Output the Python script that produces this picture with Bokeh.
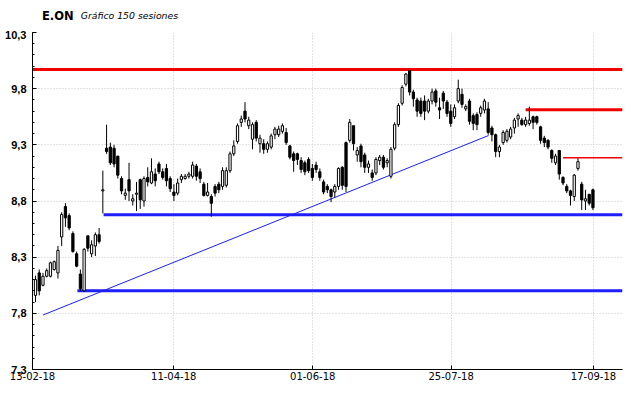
from bokeh.plotting import figure
from bokeh.layouts import column
from bokeh.models import Range1d, FixedTicker, Label, ColumnDataSource
from bokeh.embed import file_html
from bokeh.resources import INLINE

# ---- data ----
opens = [7.96, 8.16, 8.05, 8.13, 8.13, 8.19, 8.16, 8.48, 8.75, 8.67,
         8.51, 8.33, 8.15, 8.00, 8.49, 8.33, 8.40, 8.50, 8.89, 9.27,
         9.28, 9.27, 9.20, 9.00, 8.85, 8.99, 8.80, 8.86, 8.99, 8.80,
         9.01, 8.96, 9.04, 9.13, 9.06, 9.09, 9.00, 8.88, 8.87, 8.99,
         9.00, 9.02, 9.02, 9.11, 9.06, 8.95, 8.85, 8.84, 8.93, 8.95,
         8.93, 8.94, 9.07, 9.22, 9.33, 9.50, 9.60, 9.47, 9.35, 9.50,
         9.31, 9.31, 9.26, 9.28, 9.39, 9.39, 9.42, 9.41, 9.29, 9.22,
         9.22, 9.16, 9.14, 9.17, 9.09, 9.12, 9.06, 8.97, 8.93, 8.90,
         8.88, 8.93, 9.10, 9.32, 9.34, 9.47, 9.21, 9.29, 9.21, 9.10,
         9.05, 9.05, 9.16, 9.19, 9.14, 9.02, 9.27, 9.48, 9.67, 9.84,
         9.96, 9.77, 9.70, 9.69, 9.69, 9.60, 9.69, 9.78, 9.63, 9.76,
         9.68, 9.60, 9.55, 9.69, 9.75, 9.62, 9.69, 9.56, 9.57, 9.58,
         9.61, 9.62, 9.45, 9.39, 9.24, 9.32, 9.34, 9.37, 9.45, 9.53,
         9.52, 9.48, 9.49, 9.55, 9.55, 9.46, 9.36, 9.34, 9.25, 9.14,
         9.25, 9.01, 8.93, 8.89, 8.84, 9.09, 8.95, 8.80, 8.86, 8.90]
highs = [8.135, 8.19, 8.16, 8.20, 8.26, 8.27, 8.40, 8.70, 8.78, 8.69,
         8.53, 8.35, 8.19, 8.38, 8.49, 8.45, 8.52, 8.56, 9.07, 9.48,
         9.32, 9.30, 9.20, 9.02, 8.91, 9.14, 8.86, 8.97, 9.00, 9.02,
         9.10, 9.18, 9.09, 9.15, 9.09, 9.13, 9.02, 8.95, 9.00, 9.04,
         9.04, 9.06, 9.15, 9.13, 9.09, 8.97, 8.96, 8.86, 8.95, 8.97,
         9.10, 9.10, 9.24, 9.34, 9.49, 9.56, 9.68, 9.55, 9.50, 9.52,
         9.39, 9.35, 9.33, 9.40, 9.46, 9.47, 9.49, 9.45, 9.30, 9.24,
         9.23, 9.19, 9.16, 9.19, 9.13, 9.15, 9.09, 8.99, 8.95, 8.91,
         8.95, 9.10, 9.11, 9.33, 9.53, 9.47, 9.28, 9.31, 9.23, 9.16,
         9.08, 9.19, 9.21, 9.21, 9.18, 9.28, 9.50, 9.67, 9.83, 9.94,
         9.97, 9.79, 9.72, 9.72, 9.74, 9.71, 9.80, 9.80, 9.72, 9.78,
         9.70, 9.66, 9.66, 9.88, 9.80, 9.66, 9.71, 9.58, 9.59, 9.65,
         9.71, 9.68, 9.47, 9.40, 9.30, 9.43, 9.44, 9.46, 9.54, 9.58,
         9.54, 9.55, 9.64, 9.56, 9.56, 9.47, 9.38, 9.35, 9.26, 9.22,
         9.25, 9.02, 8.95, 8.90, 9.04, 9.18, 8.97, 8.90, 8.86, 8.91]
lows = [7.90, 7.96, 8.04, 8.12, 8.12, 8.18, 8.11, 8.40, 8.57, 8.54,
        8.34, 8.21, 8.00, 7.99, 8.35, 8.30, 8.31, 8.42, 8.69, 9.22,
        9.12, 9.10, 9.00, 8.86, 8.81, 8.80, 8.76, 8.71, 8.73, 8.75,
        8.93, 8.95, 8.93, 9.04, 8.99, 8.93, 8.88, 8.80, 8.85, 8.96,
        8.99, 9.00, 9.00, 8.98, 8.96, 8.84, 8.84, 8.66, 8.84, 8.87,
        8.90, 8.92, 9.05, 9.20, 9.31, 9.46, 9.50, 9.44, 9.26, 9.33,
        9.23, 9.22, 9.23, 9.26, 9.35, 9.37, 9.40, 9.30, 9.17, 9.06,
        9.12, 9.05, 9.03, 9.05, 8.98, 9.05, 8.98, 8.86, 8.87, 8.79,
        8.83, 8.90, 8.90, 8.88, 9.32, 9.25, 9.15, 9.10, 9.05, 9.05,
        8.98, 9.03, 9.12, 9.08, 9.10, 9.00, 9.25, 9.46, 9.65, 9.82,
        9.74, 9.64, 9.55, 9.55, 9.52, 9.58, 9.66, 9.64, 9.53, 9.62,
        9.55, 9.46, 9.53, 9.67, 9.63, 9.60, 9.48, 9.43, 9.43, 9.55,
        9.58, 9.39, 9.33, 9.19, 9.19, 9.30, 9.32, 9.35, 9.40, 9.46,
        9.47, 9.46, 9.47, 9.44, 9.48, 9.31, 9.28, 9.26, 9.14, 9.12,
        8.99, 8.94, 8.87, 8.76, 8.80, 9.07, 8.72, 8.72, 8.76, 8.72]
closes = [8.10, 8.00, 8.13, 8.18, 8.25, 8.26, 8.36, 8.68, 8.65, 8.56,
          8.35, 8.22, 8.02, 8.37, 8.38, 8.41, 8.50, 8.44, 8.90, 9.24,
          9.14, 9.13, 9.03, 8.89, 8.87, 8.89, 8.82, 8.87, 8.81, 9.00,
          8.97, 9.06, 8.98, 9.06, 9.01, 8.98, 8.91, 8.85, 8.96, 9.02,
          9.02, 9.04, 9.12, 9.02, 9.00, 8.85, 8.88, 8.78, 8.87, 8.90,
          9.07, 9.07, 9.22, 9.29, 9.47, 9.53, 9.53, 9.52, 9.48, 9.36,
          9.36, 9.26, 9.31, 9.38, 9.44, 9.44, 9.47, 9.32, 9.19, 9.16,
          9.17, 9.08, 9.06, 9.07, 9.01, 9.08, 9.01, 8.88, 8.90, 8.84,
          8.93, 9.09, 8.94, 8.93, 9.50, 9.31, 9.25, 9.15, 9.10, 9.13,
          9.01, 9.17, 9.19, 9.10, 9.16, 9.26, 9.48, 9.65, 9.81, 9.93,
          9.77, 9.71, 9.60, 9.58, 9.60, 9.69, 9.77, 9.68, 9.61, 9.69,
          9.58, 9.49, 9.63, 9.80, 9.66, 9.64, 9.51, 9.49, 9.48, 9.63,
          9.69, 9.41, 9.39, 9.24, 9.28, 9.41, 9.42, 9.44, 9.52, 9.56,
          9.48, 9.52, 9.52, 9.50, 9.50, 9.34, 9.32, 9.28, 9.18, 9.20,
          9.04, 8.96, 8.89, 8.85, 9.03, 9.15, 8.81, 8.82, 8.78, 8.74]

# horizontal support / resistance levels: price, first session
level_prices = [9.97, 9.613, 9.185, 8.677, 8.0]
level_starts = [-0.8, 131.0, 141.0, 18.2, 11.2]
level_colors = ["#f20000", "#f20000", "#f20000", "#1e1eff", "#1e1eff"]
level_widths = [3, 3, 1.5, 3, 3]

# trend line (session, price)
trend_x = [2.0, 121.1]
trend_y = [7.785, 9.383]

y_ticks = [7.3, 7.8, 8.3, 8.8, 9.3, 9.8, 10.3]
y_tick_labels = ["7,3", "7,8", "8,3", "8,8", "9,3", "9,8", "10,3"]
x_tick_pos = [-0.8, 36.95, 74.1, 111.1, 149.15]
x_tick_labels = ["13-02-18", "11-04-18", "01-06-18", "25-07-18", "17-09-18"]

title_main = "E.ON"
title_sub = "Gráfico 150 sesiones"

X_MIN, X_MAX = -0.8, 156.9
Y_MIN, Y_MAX = 7.3, 10.3

W = 624
TITLE_H = 30
H = 382 - TITLE_H

# ---- title strip ----
tf = figure(width=W, height=TITLE_H, output_backend="svg", toolbar_location=None,
            x_range=Range1d(0, W), y_range=Range1d(TITLE_H, 0),
            x_axis_type=None, y_axis_type=None,
            min_border_left=0, min_border_right=0, min_border_top=0,
            min_border_bottom=0)
tf.outline_line_color = None
tf.background_fill_color = "white"
tf.border_fill_color = "white"
tf.add_layout(Label(x=10, y=15, text=title_main, text_font="DejaVu Sans",
                    text_font_style="bold", text_font_size="11.5px",
                    text_color="black", text_baseline="alphabetic"))
tf.add_layout(Label(x=51, y=15, text=title_sub, text_font="DejaVu Sans",
                    text_font_style="italic", text_font_size="9.3px",
                    text_color="black", text_baseline="alphabetic"))

# ---- main chart ----
chart = figure(width=W, height=H, output_backend="svg", toolbar_location=None,
               x_range=Range1d(X_MIN, X_MAX), y_range=Range1d(Y_MIN, Y_MAX),
               min_border_left=32, min_border_right=2, min_border_top=2,
               min_border_bottom=13)
chart.background_fill_color = "white"
chart.border_fill_color = "white"
chart.outline_line_color = None

n = len(opens)
idx = list(range(n))
up = [c >= o for o, c in zip(opens, closes)]
src = ColumnDataSource(dict(
    x=idx, o=opens, h=highs, l=lows, c=closes,
    top=[max(o, c) for o, c in zip(opens, closes)],
    bot=[min(o, c) for o, c in zip(opens, closes)],
    fill=["white" if u else "black" for u in up],
))

lv = ColumnDataSource(dict(
    x0=level_starts, x1=[X_MAX] * len(level_prices), y=level_prices,
    color=level_colors, w=level_widths))
chart.segment(x0="x0", y0="y", x1="x1", y1="y", line_color="color",
              line_width="w", source=lv)
chart.line(trend_x, trend_y, line_color="#1e1eff", line_width=1)

chart.segment(x0="x", y0="l", x1="x", y1="h", line_color="black", line_width=1,
              source=src)
chart.vbar(x="x", top="top", bottom="bot", width=0.6, fill_color="fill",
           line_color="black", line_width=1, source=src)

# axes
chart.yaxis.ticker = FixedTicker(ticks=y_ticks,
                                 minor_ticks=[round(7.3 + 0.1 * k, 1) for k in range(31)])
chart.yaxis.major_label_overrides = {t: s for t, s in zip(y_ticks, y_tick_labels)}
chart.yaxis.major_label_text_font = "Liberation Sans"
chart.yaxis.major_label_text_font_style = "bold"
chart.yaxis.major_label_text_font_size = "11px"
chart.yaxis.major_label_text_color = "black"
chart.yaxis.major_label_standoff = 6
chart.yaxis.major_tick_in = 4
chart.yaxis.major_tick_out = 0
chart.yaxis.minor_tick_in = 2
chart.yaxis.minor_tick_out = 0
chart.yaxis.axis_line_color = "black"

chart.xaxis.ticker = FixedTicker(ticks=x_tick_pos)
chart.xaxis.major_label_overrides = {t: s for t, s in zip(x_tick_pos, x_tick_labels)}
chart.xaxis.major_label_text_font = "DejaVu Sans"
chart.xaxis.major_label_text_font_size = "10px"
chart.xaxis.major_label_text_color = "black"
chart.xaxis.major_label_standoff = 2
chart.xaxis.major_tick_in = 4
chart.xaxis.major_tick_out = 0
chart.xaxis.minor_tick_line_color = None
chart.xaxis.axis_line_color = "black"

chart.xgrid.grid_line_color = "#c4c4c4"
chart.xgrid.grid_line_dash = "1 2"
chart.ygrid.grid_line_color = "#c4c4c4"
chart.ygrid.grid_line_dash = "1 2"

p = column(tf, chart, spacing=0)

open("out.html", "w").write(file_html(p, INLINE))
